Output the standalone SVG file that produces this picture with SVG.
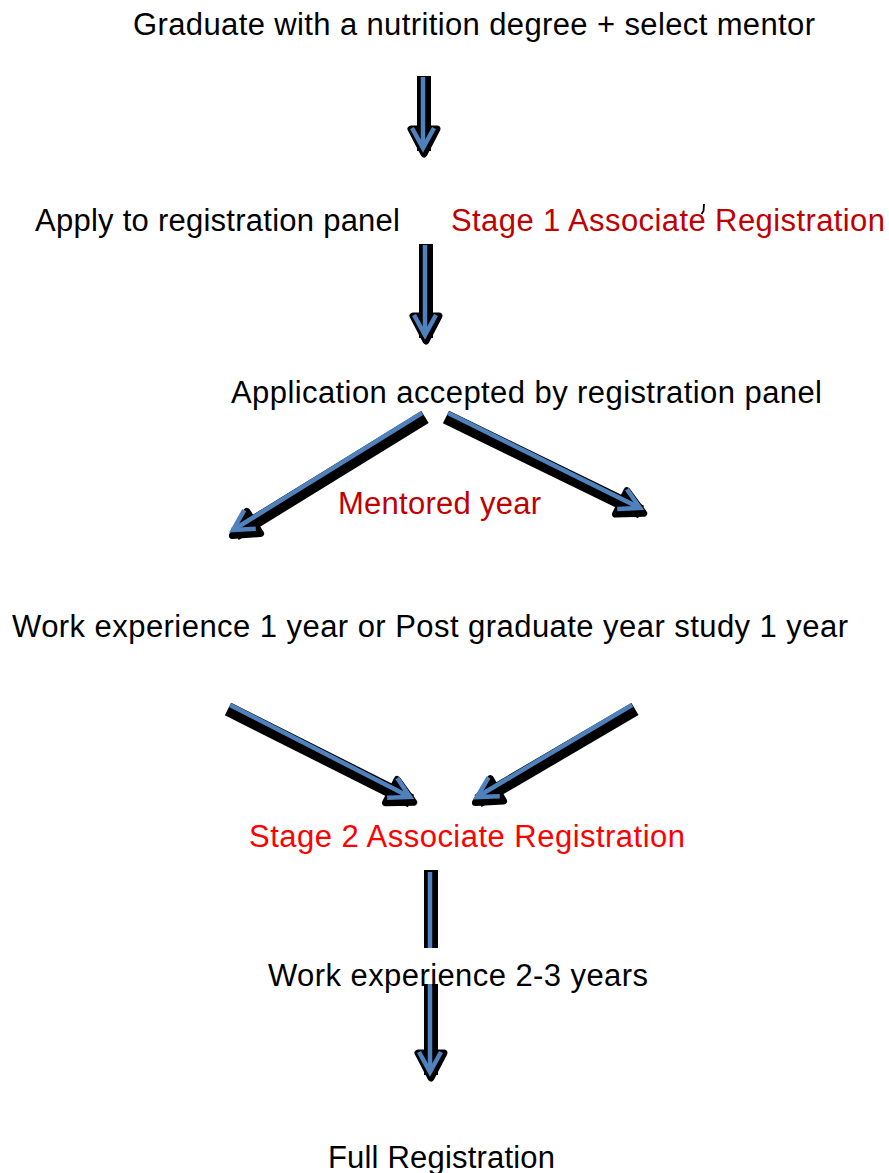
<svg xmlns="http://www.w3.org/2000/svg" width="889" height="1173" viewBox="0 0 889 1173">
<defs>
<style>
.t{font-family:"Liberation Sans",Arial,sans-serif;font-size:31px;fill:#000}
.r1{fill:#C00000}
.r2{fill:#FF0000}
.sh{stroke:#000;stroke-width:14;fill:none;stroke-linecap:butt;marker-end:url(#hb)}
.bl{stroke:#4F81BD;stroke-width:4.5;fill:none;stroke-linecap:butt;marker-end:url(#ha)}
</style>
<marker id="ha" markerUnits="userSpaceOnUse" viewBox="-30 -20 40 40" refX="0" refY="0" markerWidth="40" markerHeight="40" orient="auto" overflow="visible">
<path d="M -20 -11 L 0 0 L -20 11" fill="none" stroke="#4F81BD" stroke-width="4.5" stroke-linejoin="miter"/>
</marker>
<marker id="hb" markerUnits="userSpaceOnUse" viewBox="-30 -20 40 40" refX="0" refY="0" markerWidth="40" markerHeight="40" orient="auto" overflow="visible">
<path d="M -22 -13 L 3 0 L -22 13 Z" fill="#000" stroke="#000" stroke-width="7" stroke-linejoin="round"/>
</marker>
</defs>
<rect width="889" height="1173" fill="#fff"/>
<g id="connectors">
<g id="c1"><path class="sh" d="M 424 76 L 424 151"/><path class="bl" d="M 423 77 L 423 148"/></g>
<g id="c2"><path class="sh" d="M 426 244 L 426 338"/><path class="bl" d="M 425 245 L 425 335"/></g>
<g id="c3"><path class="sh" d="M 425 417 L 235 534"/><path class="bl" d="M 422 413 L 233 530"/></g>
<g id="c4"><path class="sh" d="M 446 417 L 641 512"/><path class="bl" d="M 448 413 L 640 508"/></g>
<g id="c5"><path class="sh" d="M 228 709 L 411 801"/><path class="bl" d="M 230 705 L 410 797"/></g>
<g id="c6"><path class="sh" d="M 635 709 L 478 801"/><path class="bl" d="M 632 705 L 477 797"/></g>
<g id="c7"><path class="sh" d="M 431 870 L 431 1075"/><path class="bl" d="M 430 872 L 430 1072"/></g>
</g>
<g id="n1"><text class="t" x="474" y="35" text-anchor="middle" textLength="682" lengthAdjust="spacing">Graduate with a nutrition degree + select mentor</text></g>
<g id="n2"><text class="t" x="35" y="231" textLength="365" lengthAdjust="spacing">Apply to registration panel</text></g>
<g id="n3"><text class="t r1" x="451" y="231" textLength="434" lengthAdjust="spacing">Stage 1 Associate Registration</text><path d="M 704 204 L 703.5 211 L 701.5 214" fill="none" stroke="#000" stroke-width="1.8"/></g>
<g id="n4"><text class="t" x="231" y="403" textLength="591" lengthAdjust="spacing">Application accepted by registration panel</text></g>
<g id="n5"><text class="t r1" x="338" y="514" textLength="203" lengthAdjust="spacing">Mentored year</text></g>
<g id="n6"><text class="t" x="12" y="637" textLength="836" lengthAdjust="spacing">Work experience 1 year or Post graduate year study 1 year</text></g>
<g id="n7"><text class="t r2" x="249" y="847" textLength="436" lengthAdjust="spacing">Stage 2 Associate Registration</text></g>
<g id="n8"><rect x="262" y="948" width="392" height="36" fill="#fff"/><text class="t" x="268" y="986" textLength="380" lengthAdjust="spacing">Work experience 2-3 years</text></g>
<g id="n9"><text class="t" x="328" y="1168" textLength="227" lengthAdjust="spacing">Full Registration</text></g>
</svg>
